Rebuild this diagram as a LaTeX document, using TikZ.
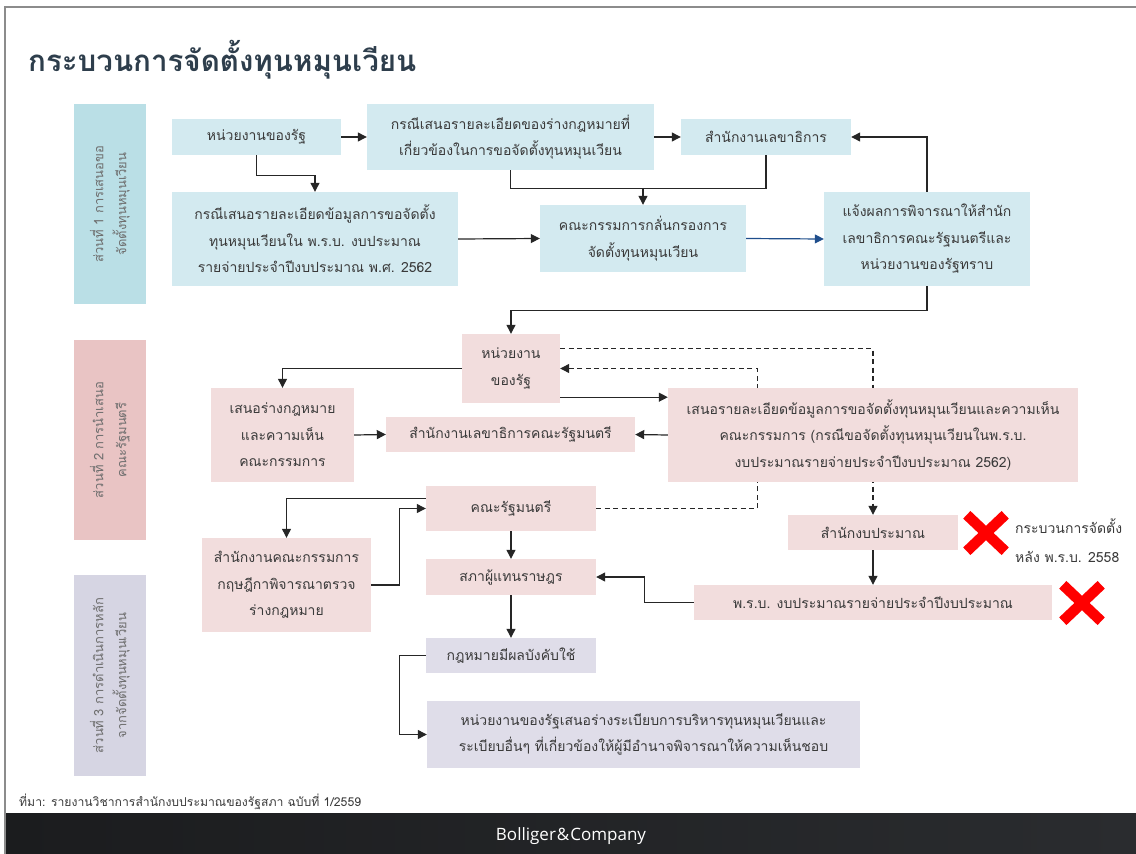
\documentclass[tikz,border=0pt]{standalone}
\usepackage{fontspec}
\newfontfamily\thai[Script=Thai]{Loma}
\newfontfamily\brand{Open Sans}
\usetikzlibrary{arrows.meta,backgrounds,calc}
\definecolor{bluebox}{HTML}{D3EAF0}
\definecolor{bluesec}{HTML}{BADFE6}
\definecolor{pinkbox}{HTML}{F2DDDD}
\definecolor{pinksec}{HTML}{E9C4C4}
\definecolor{lavbox}{HTML}{DFDDE9}
\definecolor{lavsec}{HTML}{D6D5E3}
\definecolor{txt}{HTML}{3A3A3A}
\definecolor{sectxt}{HTML}{6E6E6E}
\definecolor{arrc}{HTML}{262626}
\definecolor{bluearr}{HTML}{1F4E8C}
\definecolor{titlec}{HTML}{2E3E4C}
\definecolor{framec}{HTML}{8C8C8C}
\definecolor{footl}{HTML}{1B1C1E}
\definecolor{footr}{HTML}{2A2C2F}
\definecolor{xred}{HTML}{FF0000}
\begin{document}
\begin{tikzpicture}[x=1pt,y=-1pt,
  every node/.style={inner sep=0pt, align=center, text=txt, font=\thai\fontsize{14}{26.5}\selectfont},
  sz/.style 2 args={minimum width=#1, minimum height=#2},
  bbox/.style={fill=bluebox},
  pbox/.style={fill=pinkbox},
  lbox/.style={fill=lavbox},
  seclabel/.style={rotate=90, text=sectxt, font=\thai\fontsize{13}{23}\selectfont},
  ln/.style={draw=arrc, line width=1.2pt},
  arr/.style={ln, -{Triangle[length=9pt,width=9pt]}},
  darr/.style={arr, dash pattern=on 5pt off 3.5pt},
  redx/.style={draw=xred, line width=10.5pt}
]
\useasboundingbox (0,0) rectangle (1136,854);
% frame
\draw[framec, line width=2pt] (5,854) -- (5,7) -- (1136,7);
% title
\node[anchor=west, text=titlec, font=\thai\bfseries\fontsize{29.5}{34}\selectfont] (title) at (28,60) {กระบวนการจัดตั้งทุนหมุนเวียน};
% section bands
\node[fill=bluesec, sz={72}{200}] (s1) at (110,204) {};
\node[seclabel] (s1t) at (s1.center) {ส่วนที่ 1 การเสนอขอ\\จัดตั้งทุนหมุนเวียน};
\node[fill=pinksec, sz={72}{200}] (s2) at (110,440) {};
\node[seclabel] (s2t) at (s2.center) {ส่วนที่ 2 การนำเสนอ\\คณะรัฐมนตรี};
\node[fill=lavsec, sz={72}{201}] (s3) at (110,675.5) {};
\node[seclabel] (s3t) at (s3.center) {ส่วนที่ 3 การดำเนินการหลัก\\จากจัดตั้งทุนหมุนเวียน};
% section 1
\node[bbox, sz={169}{36}] (A) at (256.5,137) {หน่วยงานของรัฐ};
\node[bbox, sz={287}{66}] (B) at (510.5,137) {กรณีเสนอรายละเอียดของร่างกฎหมายที่\\เกี่ยวข้องในการขอจัดตั้งทุนหมุนเวียน};
\node[bbox, sz={170}{36}] (C) at (766,137) {สำนักงานเลขาธิการ};
\node[bbox, sz={286}{94}] (D) at (315,239) {กรณีเสนอรายละเอียดข้อมูลการขอจัดตั้ง\\ทุนหมุนเวียนใน พ.ร.บ. งบประมาณ\\รายจ่ายประจำปีงบประมาณ พ.ศ. 2562};
\node[bbox, sz={206}{67}] (E) at (643,238.5) {คณะกรรมการกลั่นกรองการ\\จัดตั้งทุนหมุนเวียน};
\node[bbox, sz={206}{94}] (F) at (927,239) {แจ้งผลการพิจารณาให้สำนัก\\เลขาธิการคณะรัฐมนตรีและ\\หน่วยงานของรัฐทราบ};
% section 2
\node[pbox, sz={98}{69}] (G) at (511,368.5) {หน่วยงาน\\ของรัฐ};
\node[pbox, sz={143}{94}] (H) at (282.5,435) {เสนอร่างกฎหมาย\\และความเห็น\\คณะกรรมการ};
\node[pbox, sz={249}{35}] (I) at (510.5,434.5) {สำนักงานเลขาธิการคณะรัฐมนตรี};
\node[pbox, sz={410}{94}] (J) at (873,435) {เสนอรายละเอียดข้อมูลการขอจัดตั้งทุนหมุนเวียนและความเห็น\\คณะกรรมการ (กรณีขอจัดตั้งทุนหมุนเวียนในพ.ร.บ.\\งบประมาณรายจ่ายประจำปีงบประมาณ 2562)};
\node[pbox, sz={170}{45}] (K) at (511,508.5) {คณะรัฐมนตรี};
\node[pbox, sz={169}{94}] (L) at (286.5,585) {สำนักงานคณะกรรมการ\\กฤษฎีกาพิจารณาตรวจ\\ร่างกฎหมาย};
\node[pbox, sz={170}{36}] (M) at (511,577) {สภาผู้แทนราษฎร};
\node[pbox, sz={170}{35}] (N) at (873,532.5) {สำนักงบประมาณ};
\node[pbox, sz={358}{35}] (O) at (873,602.5) {พ.ร.บ. งบประมาณรายจ่ายประจำปีงบประมาณ};
% section 3
\node[lbox, sz={170}{35}] (P) at (511,655.5) {กฎหมายมีผลบังคับใช้};
\node[lbox, sz={433}{67}] (Q) at (643.5,734.5) {หน่วยงานของรัฐเสนอร่างระเบียบการบริหารทุนหมุนเวียนและ\\ระเบียบอื่นๆ ที่เกี่ยวข้องให้ผู้มีอำนาจพิจารณาให้ความเห็นชอบ};
% red crosses and note
\node[sz={38}{36}] (X1) at (986,533) {};
\draw[redx] (X1.north west) -- (X1.south east) (X1.north east) -- (X1.south west);
\node[sz={38}{36}] (X2) at (1082,603) {};
\draw[redx] (X2.north west) -- (X2.south east) (X2.north east) -- (X2.south west);
\node[anchor=west, align=left, font=\thai\fontsize{14}{29}\selectfont] (note) at (1015,541) {กระบวนการจัดตั้ง\\หลัง พ.ร.บ. 2558};
% connectors
\begin{pgfonlayer}{background}
\draw[arr] (A.east) -- (B.west);
\draw[arr] (A.south) -- ++(0,20) -| (D.north);
\draw[arr] (B.east) -- (C.west);
\draw[ln] (B.south) -- ++(0,18) -| (C.south);
\draw[arr] ($(E.north)+(0,-17)$) -- (E.north);
\draw[arr] (D.east) -- (E.west);
\draw[arr, draw=bluearr, -{Triangle[length=9pt,width=9pt,fill=bluearr]}] (E.east) -- (F.west);
\draw[arr] (F.north) |- (C.east);
\draw[arr] (F.south) -- ++(0,24) -| (G.north);
\draw[arr] (G.west) -| (H.north);
\coordinate (gj) at ($(G.south east)+(0,-6)$);
\draw[arr] (gj) -- (gj -| J.west);
\draw[darr] ($(G.north east)+(0,15)$) -| (N.north);
\draw[darr] (K.east) -- ++(161,0) |- (G.east);
\draw[arr] (J.west) -- (I.east);
\draw[arr] (H.east) -- (I.west);
\draw[arr] ($(K.west)+(0,-10)$) -| (L.north);
\draw[arr] (L.east) -- ++(28,0) |- (K.west);
\draw[arr] (K.south) -- (M.north);
\draw[arr] (M.south) -- (P.north);
\draw[arr] (N.south) -- (O.north);
\draw[arr] (O.west) -- ++(-49,0) |- (M.east);
\draw[arr] (P.west) -- ++(-26,0) |- (Q.west);
\end{pgfonlayer}
% source and footer
\node[anchor=west, font=\thai\fontsize{12.2}{14}\selectfont] (src) at (19,802) {ที่มา: รายงานวิชาการสำนักงบประมาณของรัฐสภา ฉบับที่ 1/2559};
\shade[left color=footl, right color=footr] (6,813) rectangle (1136,854);
\node[text=white, font=\brand\fontsize{17}{20}\selectfont] (brandname) at (571,836) {Bolliger\kern1pt\&\kern1pt Company};
\end{tikzpicture}
\end{document}
